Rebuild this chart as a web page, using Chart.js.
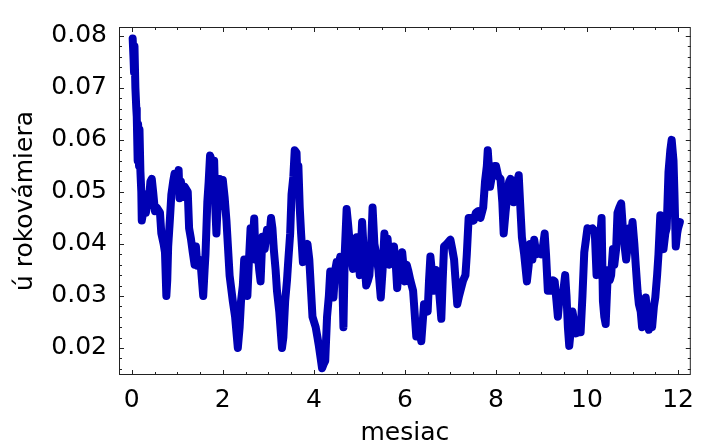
<!DOCTYPE html>
<html>
<head>
<meta charset="utf-8">
<script src="https://cdn.jsdelivr.net/npm/chart.js@4/dist/chart.umd.min.js"></script>
<style>
  html, body { margin: 0; padding: 0; background: #fff; }
  #wrap { width: 704px; height: 443px; }
</style>
</head>
<body>
<div id="wrap"><canvas id="rateChart" width="704" height="443"></canvas></div>
<script>
// values
const months = [
  0.02, 0.04, 0.05, 0.06, 0.08, 0.10, 0.11, 0.13, 0.14, 0.16, 0.17, 0.19,
  0.21, 0.22, 0.25, 0.29, 0.31, 0.33, 0.37, 0.41, 0.44, 0.47, 0.51,
  0.55, 0.62, 0.65, 0.70, 0.73, 0.76, 0.78, 0.80,
  0.84, 0.87, 0.91, 0.94, 0.98, 1.03, 1.05, 1.08, 1.12, 1.16, 1.23, 1.26, 1.30, 1.34, 1.38,
  1.41, 1.44, 1.48, 1.52, 1.57, 1.60, 1.62, 1.66, 1.69, 1.72, 1.76, 1.79, 1.81, 1.84, 1.86,
  1.89, 1.93, 1.97, 2.00, 2.04, 2.08, 2.15, 2.22, 2.27, 2.33, 2.37, 2.40, 2.44, 2.47, 2.50,
  2.54, 2.57, 2.61, 2.65, 2.69, 2.72, 2.76, 2.80, 2.83, 2.87, 2.92, 2.97, 3.02, 3.06, 3.09,
  3.12, 3.16, 3.19, 3.24, 3.30, 3.33, 3.37, 3.41, 3.44, 3.48, 3.51, 3.55, 3.58, 3.62, 3.64,
  3.66, 3.69, 3.72, 3.76, 3.80, 3.84, 3.86, 3.90, 3.97, 4.04, 4.08, 4.11, 4.15, 4.18, 4.22,
  4.25, 4.29, 4.33, 4.36, 4.40, 4.43, 4.47, 4.50, 4.54, 4.58, 4.62, 4.65, 4.68, 4.72, 4.75,
  4.79, 4.83, 4.86, 4.90, 4.94, 4.97, 5.01, 5.04, 5.06, 5.10, 5.15, 5.19, 5.22, 5.26, 5.29,
  5.33, 5.37, 5.42, 5.47, 5.51, 5.55, 5.60, 5.62, 5.66, 5.69, 5.73, 5.76, 5.80, 5.83, 5.88,
  5.94, 6.00, 6.04, 6.07, 6.12, 6.18, 6.25, 6.30, 6.36, 6.42, 6.46, 6.50, 6.53, 6.56, 6.60,
  6.64, 6.68, 6.72, 6.76, 6.80, 6.83, 6.86, 6.92, 7.00, 7.04, 7.08, 7.12, 7.15, 7.19, 7.22,
  7.28, 7.33, 7.36, 7.40, 7.45, 7.51, 7.56, 7.61, 7.66, 7.72, 7.76, 7.80, 7.82, 7.85, 7.87,
  7.91, 7.97, 8.00, 8.05, 8.10, 8.14, 8.17, 8.21, 8.25, 8.29, 8.32, 8.36, 8.39, 8.44, 8.50,
  8.53, 8.57, 8.62, 8.68, 8.72, 8.75, 8.80, 8.84, 8.89, 8.94, 9.00, 9.04, 9.07, 9.10, 9.14,
  9.18, 9.22, 9.26, 9.29, 9.33, 9.36, 9.40, 9.43, 9.48, 9.52, 9.55, 9.58, 9.61, 9.65, 9.68,
  9.72, 9.76, 9.82, 9.86, 9.90, 9.94, 10.01, 10.06, 10.12, 10.17, 10.21, 10.25, 10.28, 10.32,
  10.35, 10.38, 10.41, 10.46, 10.50, 10.53, 10.57, 10.60, 10.64, 10.67, 10.71, 10.75, 10.78,
  10.82, 10.86, 10.90, 10.93, 10.97, 11.00, 11.04, 11.07, 11.11, 11.14, 11.18, 11.21, 11.25,
  11.29, 11.33, 11.36, 11.40, 11.43, 11.47, 11.50, 11.54, 11.57, 11.61, 11.64, 11.68, 11.72,
  11.75, 11.79, 11.83, 11.86, 11.90, 11.92, 11.95, 11.98, 12.00, 12.04
];
const rate = [
  0.0795, 0.0755, 0.073, 0.078, 0.070, 0.066, 0.0645, 0.056, 0.063, 0.055, 0.062, 0.054,
  0.050, 0.0445, 0.046, 0.0488, 0.046, 0.047, 0.0475, 0.052, 0.0525, 0.050, 0.0463,
  0.047, 0.046, 0.042, 0.040, 0.0384, 0.030, 0.033, 0.0395,
  0.045, 0.0495, 0.052, 0.0535, 0.052, 0.0542, 0.0488, 0.052, 0.049, 0.051, 0.050, 0.043, 0.041, 0.0384, 0.036,
  0.0395, 0.0358, 0.037, 0.0355, 0.030, 0.035, 0.038, 0.048, 0.052, 0.057, 0.056, 0.052, 0.056, 0.046, 0.042,
  0.048, 0.0525, 0.0473, 0.0523, 0.049, 0.0445, 0.0339, 0.029, 0.026, 0.020, 0.024, 0.029, 0.032, 0.037, 0.035,
  0.030, 0.036, 0.043, 0.040, 0.0449, 0.037, 0.039, 0.035, 0.0328, 0.0414, 0.039, 0.0427, 0.041, 0.045, 0.043,
  0.039, 0.035, 0.031, 0.027, 0.020, 0.022, 0.029, 0.033, 0.037, 0.042, 0.0495, 0.053, 0.058, 0.0575, 0.052,
  0.055, 0.047, 0.042, 0.0365, 0.040, 0.0395, 0.040, 0.037, 0.026, 0.024, 0.022, 0.0204, 0.018, 0.0161, 0.017,
  0.0175, 0.026, 0.030, 0.0347, 0.034, 0.0297, 0.035, 0.0365, 0.036, 0.0375, 0.035, 0.024, 0.0384, 0.0467, 0.044,
  0.040, 0.037, 0.0352, 0.038, 0.0413, 0.039, 0.034, 0.040, 0.0442, 0.038, 0.032, 0.033, 0.034, 0.040, 0.047,
  0.040, 0.038, 0.035, 0.0297, 0.035, 0.042, 0.038, 0.041, 0.036, 0.0365, 0.038, 0.0395, 0.036, 0.0315, 0.036,
  0.0384, 0.0328, 0.036, 0.035, 0.033, 0.031, 0.0222, 0.024, 0.0213, 0.0284, 0.028, 0.027, 0.033, 0.0376, 0.034,
  0.031, 0.035, 0.033, 0.030, 0.0256, 0.033, 0.0395, 0.040, 0.0408, 0.039, 0.037, 0.032, 0.0284, 0.030, 0.031,
  0.033, 0.034, 0.038, 0.045, 0.045, 0.0445, 0.046, 0.0463, 0.045, 0.047, 0.052, 0.055, 0.058, 0.054, 0.051,
  0.053, 0.055, 0.055, 0.053, 0.0525, 0.048, 0.042, 0.046, 0.0495, 0.052, 0.0525, 0.050, 0.048, 0.051, 0.0532,
  0.048, 0.0413, 0.038, 0.0328, 0.036, 0.040, 0.037, 0.0408, 0.038, 0.039, 0.038, 0.040, 0.042, 0.038, 0.031,
  0.033, 0.031, 0.033, 0.0328, 0.029, 0.026, 0.030, 0.029, 0.031, 0.034, 0.030, 0.024, 0.0204, 0.024, 0.027,
  0.025, 0.0228, 0.023, 0.023, 0.030, 0.0384, 0.043, 0.0427, 0.043, 0.0425, 0.034, 0.036, 0.040, 0.045,
  0.029, 0.026, 0.0246, 0.035, 0.033, 0.034, 0.039, 0.036, 0.039, 0.046, 0.047, 0.0478, 0.044,
  0.040, 0.037, 0.040, 0.043, 0.042, 0.0442, 0.040, 0.036, 0.031, 0.0284, 0.027, 0.024, 0.027,
  0.0297, 0.026, 0.0235, 0.025, 0.024, 0.028, 0.0297, 0.034, 0.038, 0.0455, 0.042, 0.039, 0.042,
  0.043, 0.0538, 0.058, 0.060, 0.056, 0.050, 0.0395, 0.042, 0.043, 0.0442
];

const xTicks = [0, 2, 4, 6, 8, 10, 12];
const yTicks = [0.02, 0.03, 0.04, 0.05, 0.06, 0.07, 0.08];
const yTickLabels = ['0.02', '0.03', '0.04', '0.05', '0.06', '0.07', '0.08'];

const labelFont = { family: 'DejaVu Sans', size: 25 };

// frame with inward ticks on all four sides (mathematica style)
const framePlugin = {
  id: 'frame',
  afterDraw(chart) {
    const { ctx, chartArea: a, scales } = chart;
    const xs = scales.x, ys = scales.y;
    ctx.save();
    ctx.strokeStyle = '#222';
    ctx.lineWidth = 1;
    ctx.strokeRect(a.left + 0.5, a.top + 0.5, a.right - a.left - 1, a.bottom - a.top - 1);
    ctx.beginPath();
    for (let i = 0; i <= 24; i++) {
      const v = i * 0.5;
      const len = i % 4 === 0 ? 5 : 3;
      const px = Math.round(xs.getPixelForValue(v)) + 0.5;
      ctx.moveTo(px, a.bottom); ctx.lineTo(px, a.bottom - len);
      ctx.moveTo(px, a.top); ctx.lineTo(px, a.top + len);
    }
    for (let i = 8; i <= 40; i++) {
      const v = i * 0.002;
      const len = i % 5 === 0 ? 5 : 3;
      const py = Math.round(ys.getPixelForValue(v)) + 0.5;
      ctx.moveTo(a.left, py); ctx.lineTo(a.left + len, py);
      ctx.moveTo(a.right, py); ctx.lineTo(a.right - len, py);
    }
    ctx.stroke();
    ctx.restore();
  }
};

new Chart(document.getElementById('rateChart'), {
  type: 'line',
  data: {
    datasets: [{
      data: months.map((m, i) => ({ x: m, y: rate[i] })),
      borderColor: '#0000b4',
      borderWidth: 8,
      borderJoinStyle: 'round',
      borderCapStyle: 'round',
      pointRadius: 0,
      tension: 0,
      fill: false
    }]
  },
  options: {
    responsive: false,
    animation: false,
    layout: { padding: { top: 15, right: 2, left: 0, bottom: 0 } },
    plugins: { legend: { display: false }, tooltip: { enabled: false } },
    scales: {
      x: {
        type: 'linear',
        min: -0.28,
        max: 12.28,
        afterBuildTicks: s => { s.ticks = xTicks.map(v => ({ value: v })); },
        afterFit: s => { s.height = 68; },
        grid: { display: false, drawTicks: false },
        border: { display: false },
        ticks: { color: '#000', font: labelFont, padding: 10, maxRotation: 0,
                 callback: v => String(v) },
        title: { display: true, text: 'mesiac', color: '#000',
                 font: { family: 'DejaVu Sans', size: 25, lineHeight: 0.8 },
                 padding: { top: 0, bottom: 0 } }
      },
      y: {
        type: 'linear',
        min: 0.0148,
        max: 0.0817,
        afterBuildTicks: s => { s.ticks = yTicks.map(v => ({ value: v })); },
        afterFit: s => { s.width = 119; },
        grid: { display: false, drawTicks: false },
        border: { display: false },
        ticks: { color: '#000', font: labelFont, padding: 12,
                 callback: (v, i) => yTickLabels[i] },
        title: { display: true, text: 'ú rokovámiera', color: '#000', font: labelFont,
                 padding: { top: 10, bottom: 0 } }
      }
    }
  },
  plugins: [framePlugin]
});
</script>
</body>
</html>
